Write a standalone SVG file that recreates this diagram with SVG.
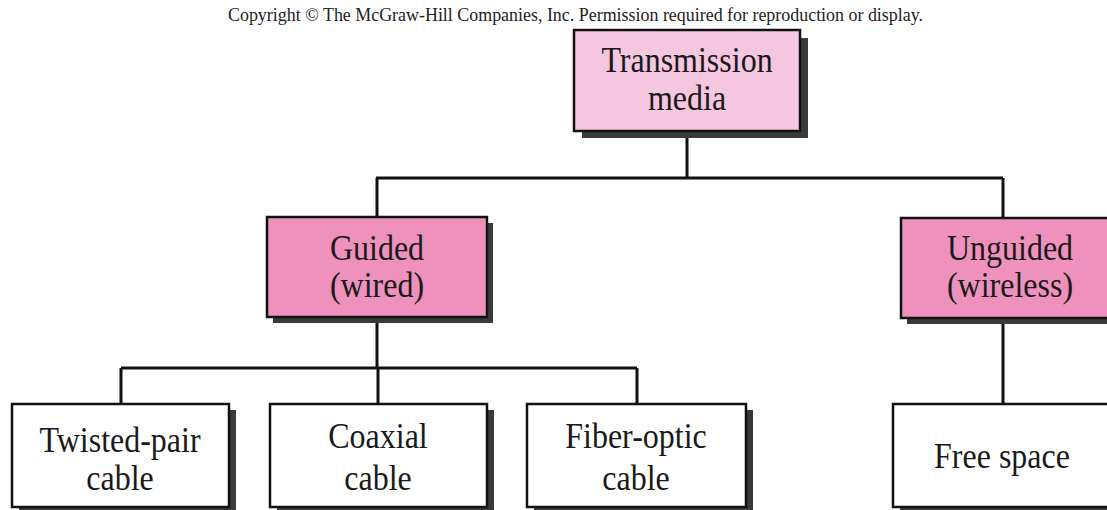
<svg xmlns="http://www.w3.org/2000/svg" width="1107" height="510" viewBox="0 0 1107 510">
<style>
.shadow{fill:#3a3a3a}
.box{stroke:#111;stroke-width:2.5}
.top{fill:#f5c6df}
.mid{fill:#ee92bd}
.leaf{fill:#ffffff}
.t{font-family:"Liberation Serif","Times New Roman",serif;font-size:32px;fill:#1a1a1a;text-anchor:middle}
.c{font-family:"Liberation Serif","Times New Roman",serif;font-size:18px;fill:#222}
.ln{stroke:#111;stroke-width:3;fill:none}
</style>
<rect width="1107" height="510" fill="#ffffff"/>
<text class="c" x="228" y="21" textLength="695" lengthAdjust="spacingAndGlyphs">Copyright © The McGraw-Hill Companies, Inc. Permission required for reproduction or display.</text>
<g id="connectors">
<path class="ln" d="M687 131 V178 M376 178 H1003 M377 178 V217 M1003 178 V218"/>
<path class="ln" d="M377 317 V368 M121 368 H637 M121 368 V404 M378 368 V404 M637 368 V404"/>
<path class="ln" d="M1003 318 V404"/>
</g>
<g id="transmission">
<rect class="shadow" x="582" y="38" width="226" height="100"/>
<rect class="box top" x="574" y="30" width="226" height="101"/>
<text class="t" transform="translate(687 72) scale(1 1.1)">Transmission</text>
<text class="t" transform="translate(687 110) scale(1 1.1)">media</text>
</g>
<g id="guided">
<rect class="shadow" x="273" y="223" width="220" height="100"/>
<rect class="box mid" x="267" y="217" width="220" height="100"/>
<text class="t" transform="translate(377 260) scale(1 1.1)">Guided</text>
<text class="t" transform="translate(377 297) scale(1 1.1)">(wired)</text>
</g>
<g id="unguided">
<rect class="shadow" x="907" y="224" width="220" height="100"/>
<rect class="box mid" x="901" y="218" width="220" height="100"/>
<text class="t" transform="translate(1010 260) scale(1 1.1)">Unguided</text>
<text class="t" transform="translate(1010 297) scale(1 1.1)">(wireless)</text>
</g>
<g id="twisted">
<rect class="shadow" x="19" y="410" width="217" height="100"/>
<rect class="box leaf" x="12" y="404" width="217" height="103"/>
<text class="t" transform="translate(120 452) scale(1 1.1)">Twisted-pair</text>
<text class="t" transform="translate(120 490) scale(1 1.1)">cable</text>
</g>
<g id="coaxial">
<rect class="shadow" x="277" y="410" width="217" height="100"/>
<rect class="box leaf" x="270" y="404" width="217" height="103"/>
<text class="t" transform="translate(378 448) scale(1 1.1)">Coaxial</text>
<text class="t" transform="translate(378 490) scale(1 1.1)">cable</text>
</g>
<g id="fiber">
<rect class="shadow" x="534" y="410" width="219" height="100"/>
<rect class="box leaf" x="527" y="404" width="219" height="103"/>
<text class="t" transform="translate(636 448) scale(1 1.1)">Fiber-optic</text>
<text class="t" transform="translate(636 490) scale(1 1.1)">cable</text>
</g>
<g id="freespace">
<rect class="shadow" x="900" y="410" width="220" height="100"/>
<rect class="box leaf" x="893" y="404" width="220" height="103"/>
<text class="t" transform="translate(1002 468) scale(1 1.1)">Free space</text>
</g>
</svg>
